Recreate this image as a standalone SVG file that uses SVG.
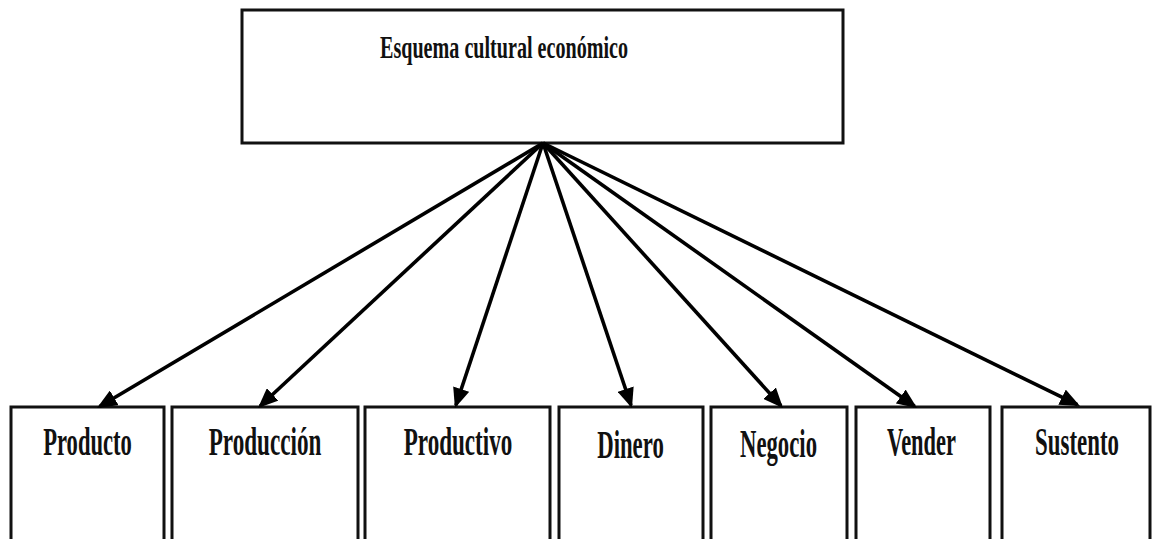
<svg xmlns="http://www.w3.org/2000/svg" width="1153" height="539" viewBox="0 0 1153 539">
<style>
.box{fill:#fff;stroke:#111;stroke-width:3}
.t{font-family:"Liberation Serif","Times New Roman",serif;font-weight:bold;fill:#111}
.lbl{font-size:39px;text-anchor:middle}
.conn line{stroke:#000;stroke-width:3.6;marker-end:url(#ah)}
</style>
<defs>
<marker id="ah" markerUnits="userSpaceOnUse" markerWidth="21" markerHeight="17" refX="17" refY="8.5" orient="auto">
<path d="M0,0 L20,8.5 L0,17 z" fill="#000"/>
</marker>
</defs>
<rect width="1153" height="539" fill="#fff"/>
<g id="root">
<rect class="box" x="242" y="10" width="601" height="133"/>
<text class="t" transform="translate(380,58) scale(0.649,1)" font-size="31">Esquema cultural económico</text>
</g>
<g id="n1"><rect class="box" x="11" y="407" width="153" height="140"/><text class="t lbl" transform="translate(87.5,455) scale(0.579,1)">Producto</text></g>
<g id="n2"><rect class="box" x="172" y="407" width="186" height="140"/><text class="t lbl" transform="translate(265,455) scale(0.593,1)">Producción</text></g>
<g id="n3"><rect class="box" x="365" y="407" width="185" height="140"/><text class="t lbl" transform="translate(458,455) scale(0.592,1)">Productivo</text></g>
<g id="n4"><rect class="box" x="559" y="407" width="144" height="140"/><text class="t lbl" transform="translate(630.5,458) scale(0.584,1)">Dinero</text></g>
<g id="n5"><rect class="box" x="711" y="407" width="136" height="140"/><text class="t lbl" transform="translate(778.5,457) scale(0.583,1)">Negocio</text></g>
<g id="n6"><rect class="box" x="856" y="407" width="134" height="140"/><text class="t lbl" transform="translate(921.5,455) scale(0.575,1)">Vender</text></g>
<g id="n7"><rect class="box" x="1002" y="407" width="148" height="140"/><text class="t lbl" transform="translate(1077,455) scale(0.587,1)">Sustento</text></g>
<g id="connectors" class="conn">
<line x1="543" y1="143" x2="99.6" y2="406.5"/>
<line x1="543" y1="143" x2="260.2" y2="406.0"/>
<line x1="543" y1="143" x2="455.9" y2="405.2"/>
<line x1="543" y1="143" x2="631.0" y2="405.2"/>
<line x1="543" y1="143" x2="781.0" y2="405.8"/>
<line x1="543" y1="143" x2="914.6" y2="406.3"/>
<line x1="543" y1="143" x2="1077.3" y2="404.7"/>
</g>
</svg>
